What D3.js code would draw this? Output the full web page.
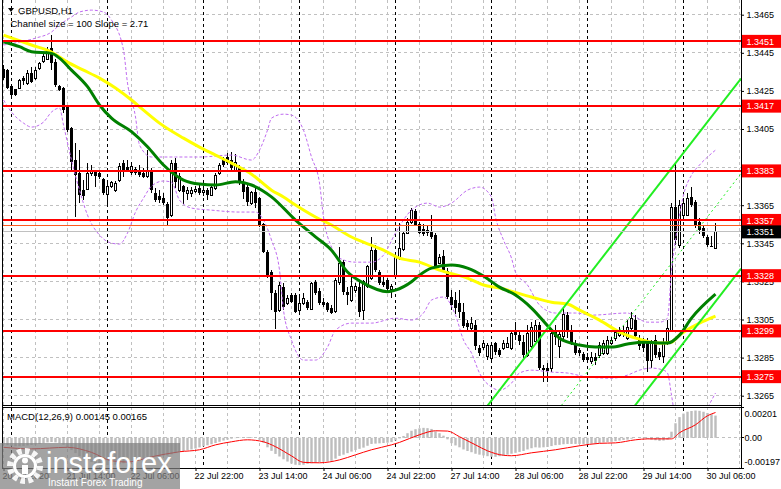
<!DOCTYPE html>
<html>
<head>
<meta charset="utf-8">
<script src="https://d3js.org/d3.v7.min.js"></script>
<style>
body{margin:0;background:white;}
text{font-family:"Liberation Sans",Arial,sans-serif;}
</style>
</head>
<body>
<div id="viz-container"></div>
<script>
let svgWidth = 781;
let svgHeight = 489;

// GBPUSD H1, bar 0 = 20 Jul 22:00, bar 178 = 30 Jul 08:00
let barOpen = [1.34363,1.34359,1.34275,1.34258,1.34263,1.34316,1.34290,1.34342,1.34316,1.34368,
 1.34403,1.34416,1.34473,1.34403,1.34275,1.34263,1.34167,1.34053,1.33887,1.33817,
 1.33729,1.33733,1.33817,1.33826,1.33820,1.33786,1.33708,1.33750,1.33729,1.33782,
 1.33870,1.33850,1.33822,1.33838,1.33834,1.33820,1.33799,1.33826,1.33712,1.33698,
 1.33686,1.33656,1.33598,1.33870,1.33726,1.33750,1.33712,1.33712,1.33721,1.33738,
 1.33715,1.33729,1.33703,1.33738,1.33817,1.33887,1.33904,1.33887,1.33834,1.33843,
 1.33765,1.33747,1.33660,1.33719,1.33686,1.33551,1.33406,1.33301,1.33187,1.33099,
 1.33222,1.33135,1.33178,1.33178,1.33099,1.33135,1.33143,1.33103,1.33248,1.33201,
 1.33143,1.33135,1.33108,1.33091,1.33243,1.33353,1.33196,1.33152,1.33204,1.33222,
 1.33099,1.33222,1.33266,1.33414,1.33301,1.33248,1.33257,1.33208,1.33274,1.33371,
 1.33420,1.33504,1.33561,1.33619,1.33551,1.33525,1.33519,1.33509,1.33493,1.33346,
 1.33383,1.33304,1.33168,1.33152,1.33136,1.33089,1.33031,1.33005,1.33021,1.32900,
 1.32905,1.32858,1.32847,1.32926,1.32889,1.32900,1.32905,1.32900,1.32994,1.32968,
 1.32931,1.32863,1.32910,1.32937,1.33021,1.32795,1.32795,1.32795,1.32984,1.32910,
 1.32963,1.33073,1.32994,1.32921,1.32889,1.32868,1.32853,1.32832,1.32853,1.32863,
 1.32874,1.32874,1.32926,1.32952,1.32968,1.32994,1.32952,1.33005,1.33047,1.32952,
 1.32931,1.32931,1.32837,1.32942,1.32879,1.32858,1.32926,1.32989,1.33640,1.33441,
 1.33598,1.33598,1.33693,1.33666,1.33561,1.33530,1.33483,1.33435,1.33425];
let barHigh = [1.34386,1.34363,1.34281,1.34260,1.34311,1.34328,1.34359,1.34377,1.34377,1.34403,
 1.34447,1.34482,1.34543,1.34416,1.34281,1.34272,1.34176,1.34062,1.33975,1.33939,
 1.33782,1.33870,1.33861,1.33831,1.33834,1.33791,1.33765,1.33777,1.33777,1.33871,
 1.33887,1.33887,1.33878,1.33852,1.33861,1.33843,1.33939,1.33843,1.33738,1.33729,
 1.33712,1.33668,1.33887,1.33896,1.33817,1.33756,1.33747,1.33747,1.33750,1.33756,
 1.33747,1.33738,1.33756,1.33817,1.33870,1.33904,1.33925,1.33931,1.33918,1.33861,
 1.33786,1.33756,1.33726,1.33740,1.33694,1.33558,1.33414,1.33309,1.33204,1.33248,
 1.33240,1.33178,1.33187,1.33187,1.33169,1.33187,1.33152,1.33248,1.33257,1.33213,
 1.33161,1.33143,1.33126,1.33266,1.33432,1.33362,1.33222,1.33274,1.33240,1.33257,
 1.33257,1.33336,1.33481,1.33441,1.33309,1.33274,1.33266,1.33236,1.33388,1.33555,
 1.33514,1.33582,1.33635,1.33630,1.33561,1.33551,1.33546,1.33598,1.33504,1.33393,
 1.33414,1.33320,1.33204,1.33194,1.33204,1.33136,1.33047,1.33063,1.33047,1.32916,
 1.32942,1.32926,1.32921,1.32931,1.32900,1.32942,1.32958,1.32994,1.33036,1.32994,
 1.32968,1.33021,1.33036,1.33047,1.33036,1.32811,1.32821,1.33005,1.33021,1.32994,
 1.33110,1.33089,1.33021,1.32942,1.32900,1.32879,1.32874,1.32879,1.32874,1.32931,
 1.32942,1.32963,1.32958,1.32994,1.33010,1.33015,1.33047,1.33089,1.33073,1.32968,
 1.32952,1.32952,1.32942,1.32968,1.32900,1.32952,1.33047,1.33661,1.33871,1.33677,
 1.33687,1.33714,1.33745,1.33677,1.33582,1.33546,1.33493,1.33488,1.33556];
let barLow = [1.34307,1.34258,1.34223,1.34223,1.34258,1.34281,1.34281,1.34290,1.34307,1.34359,
 1.34395,1.34412,1.34359,1.34272,1.34251,1.34132,1.34036,1.33826,1.33589,1.33660,
 1.33677,1.33729,1.33803,1.33747,1.33786,1.33703,1.33651,1.33740,1.33719,1.33771,
 1.33799,1.33826,1.33808,1.33808,1.33799,1.33791,1.33791,1.33712,1.33668,1.33660,
 1.33651,1.33546,1.33589,1.33738,1.33721,1.33656,1.33677,1.33694,1.33714,1.33703,
 1.33698,1.33677,1.33698,1.33729,1.33808,1.33852,1.33861,1.33826,1.33824,1.33756,
 1.33682,1.33645,1.33651,1.33635,1.33537,1.33397,1.33266,1.33099,1.32998,1.33091,
 1.33099,1.33126,1.33135,1.33084,1.33091,1.33126,1.33099,1.33099,1.33178,1.33126,
 1.33117,1.33091,1.33078,1.33082,1.33231,1.33178,1.33126,1.33143,1.33187,1.33064,
 1.33047,1.33213,1.33257,1.33301,1.33231,1.33222,1.33196,1.33161,1.33266,1.33362,
 1.33409,1.33498,1.33551,1.33540,1.33498,1.33488,1.33488,1.33472,1.33320,1.33341,
 1.33299,1.33157,1.33099,1.33078,1.33057,1.33005,1.32994,1.32994,1.32889,1.32858,
 1.32889,1.32837,1.32837,1.32863,1.32853,1.32889,1.32900,1.32889,1.32942,1.32916,
 1.32847,1.32853,1.32900,1.32931,1.32784,1.32721,1.32721,1.32774,1.32916,1.32847,
 1.32942,1.32952,1.32916,1.32863,1.32858,1.32826,1.32826,1.32816,1.32811,1.32847,
 1.32863,1.32863,1.32916,1.32937,1.32958,1.32958,1.32942,1.32994,1.32952,1.32889,
 1.32879,1.32774,1.32795,1.32847,1.32837,1.32821,1.32916,1.32984,1.33441,1.33425,
 1.33588,1.33593,1.33640,1.33530,1.33498,1.33477,1.33430,1.33428,1.33420];
let barClose = [1.34316,1.34263,1.34228,1.34228,1.34307,1.34302,1.34342,1.34298,1.34359,1.34395,
 1.34429,1.34468,1.34395,1.34281,1.34254,1.34149,1.34044,1.33878,1.33808,1.33703,
 1.33698,1.33817,1.33834,1.33803,1.33796,1.33712,1.33747,1.33768,1.33766,1.33855,
 1.33834,1.33834,1.33852,1.33820,1.33808,1.33799,1.33826,1.33729,1.33677,1.33677,
 1.33660,1.33581,1.33870,1.33773,1.33803,1.33721,1.33729,1.33729,1.33733,1.33712,
 1.33729,1.33703,1.33744,1.33808,1.33861,1.33861,1.33870,1.33845,1.33874,1.33765,
 1.33721,1.33668,1.33715,1.33661,1.33546,1.33406,1.33274,1.33187,1.33091,1.33231,
 1.33117,1.33161,1.33143,1.33091,1.33135,1.33161,1.33108,1.33240,1.33187,1.33135,
 1.33126,1.33099,1.33082,1.33257,1.33345,1.33196,1.33178,1.33222,1.33225,1.33091,
 1.33248,1.33327,1.33414,1.33309,1.33240,1.33231,1.33208,1.33225,1.33379,1.33423,
 1.33504,1.33561,1.33624,1.33546,1.33504,1.33498,1.33504,1.33483,1.33330,1.33378,
 1.33309,1.33168,1.33126,1.33110,1.33089,1.33015,1.33010,1.33031,1.32910,1.32874,
 1.32926,1.32916,1.32916,1.32879,1.32863,1.32926,1.32926,1.32979,1.32968,1.32937,
 1.32863,1.32979,1.33010,1.33021,1.32795,1.32784,1.32779,1.32979,1.32958,1.32973,
 1.33078,1.32984,1.32926,1.32874,1.32874,1.32837,1.32837,1.32853,1.32832,1.32916,
 1.32926,1.32942,1.32942,1.32984,1.32994,1.32968,1.33010,1.33057,1.32963,1.32910,
 1.32900,1.32832,1.32931,1.32863,1.32853,1.32931,1.33005,1.33640,1.33467,1.33651,
 1.33661,1.33687,1.33651,1.33540,1.33519,1.33488,1.33441,1.33430,1.33510];

// moving averages, read as [bar, price]
let yellowMA = [[0,1.34543],[7,1.34491],[12,1.34454],[16,1.34401],[20,1.34359],[24,1.34317],[28,1.34265],[32,1.34202],[35,1.34149],[39,1.34081],[45,1.34002],[49,1.33955],[53,1.33913],[57,1.33871],[62,1.33813],[67,1.33729],[70,1.33693],[73,1.33651],[78,1.33588],[82,1.33546],[87,1.33483],[90,1.33456],[95,1.33414],[99,1.33372],[104,1.33351],[109,1.33309],[116,1.33267],[120,1.33231],[124,1.33215],[132,1.33168],[137,1.33141],[141,1.33131],[144,1.33099],[149,1.33047],[154,1.32984],[159,1.32947],[164,1.32926],[167,1.32931],[169,1.32968],[174,1.33031],[178,1.33068]];
let greenMA = [[0,1.34508],[4,1.34482],[7,1.34456],[12,1.34447],[14,1.34422],[17,1.34359],[21,1.34272],[24,1.34176],[27,1.34107],[32,1.34036],[36,1.33957],[40,1.33861],[45,1.33782],[49,1.33761],[53,1.33756],[58,1.33773],[62,1.33756],[67,1.33694],[73,1.33572],[78,1.33484],[82,1.33414],[86,1.33299],[90,1.33241],[96,1.33196],[98,1.33204],[102,1.33248],[104,1.33283],[107,1.33320],[112,1.33336],[116,1.33320],[120,1.33278],[124,1.33220],[128,1.33178],[132,1.33110],[137,1.32994],[139,1.32952],[144,1.32916],[148,1.32905],[152,1.32905],[156,1.32921],[160,1.32931],[166,1.32926],[169,1.32968],[172,1.33057],[178,1.33183]];
let bandUpper = [[0,1.34491],[4,1.34506],[8,1.34527],[12,1.34559],[14,1.34596],[17,1.34638],[19,1.34664],[22,1.34674],[25,1.34664],[27,1.34622],[30,1.34464],[31,1.34291],[33,1.34113],[34,1.33966],[37,1.33903],[43,1.33903],[49,1.33903],[57,1.33913],[62,1.33887],[64,1.33939],[66,1.34044],[67,1.34107],[70,1.34128],[72,1.34123],[75,1.34044],[77,1.33903],[79,1.33766],[80,1.33588],[82,1.33430],[84,1.33372],[88,1.33351],[92,1.33351],[95,1.33388],[98,1.33504],[102,1.33624],[106,1.33661],[109,1.33640],[112,1.33661],[116,1.33729],[119,1.33745],[122,1.33693],[123,1.33588],[125,1.33467],[127,1.33372],[128,1.33299],[131,1.33231],[134,1.33126],[138,1.33084],[143,1.33084],[147,1.33073],[156,1.33084],[158,1.33063],[161,1.33036],[164,1.33036],[166,1.33057],[167,1.33309],[168,1.33467],[169,1.33598],[170,1.33703],[172,1.33808],[174,1.33861],[176,1.33903],[178,1.33939]];
let bandLower = [[0,1.34202],[2,1.34139],[5,1.34081],[7,1.34060],[10,1.34086],[12,1.34139],[14,1.34160],[15,1.34071],[17,1.33887],[19,1.33729],[21,1.33598],[24,1.33493],[27,1.33451],[29,1.33446],[31,1.33504],[33,1.33614],[35,1.33687],[37,1.33750],[40,1.33777],[42,1.33771],[44,1.33677],[47,1.33635],[52,1.33624],[59,1.33614],[63,1.33614],[65,1.33572],[67,1.33467],[69,1.33309],[70,1.33099],[72,1.32942],[75,1.32837],[78,1.32837],[81,1.32905],[83,1.32994],[87,1.33031],[92,1.33031],[98,1.33057],[102,1.33047],[105,1.33084],[107,1.33152],[110,1.33168],[113,1.33073],[115,1.32942],[117,1.32874],[119,1.32769],[122,1.32695],[124,1.32679],[127,1.32716],[129,1.32769],[132,1.32784],[137,1.32774],[141,1.32769],[146,1.32748],[152,1.32742],[156,1.32758],[159,1.32784],[162,1.32795],[165,1.32784],[166,1.32769],[167,1.32653],[168,1.32522],[170,1.32417],[172,1.32417],[174,1.32496],[176,1.32585],[178,1.32664]];

// regression channel (100 bars, slope 2.71 pips per bar)
let channelStart = 79;
let channelEnd = 178;
let channelMidAtEnd = 1.33643;
let channelHalf = 0.00499;
let channelSlope = 0.000271;

let levels = [1.3451, 1.3417, 1.3383, 1.3357, 1.3328, 1.3299, 1.3275];
let bidPrice = 1.3351;
let orangeLevel = 1.33544;
let priceTicks = [1.3265, 1.3285, 1.3305, 1.3325, 1.3345, 1.3365, 1.3385, 1.3405, 1.3425, 1.3445, 1.3465];

// MACD main in points (0.00001), one per bar
let macdMain = [-45,-48,-52,-55,-55,-53,-50,-47,-44,-40,
 -35,-30,-28,-30,-35,-45,-60,-80,-100,-120,
 -135,-148,-158,-166,-172,-176,-178,-178,-176,-172,
 -166,-160,-152,-145,-138,-132,-126,-122,-120,-118,
 -116,-116,-108,-100,-92,-86,-80,-76,-70,-63,
 -56,-49,-42,-34,-26,-18,-12,-6,-2,2,
 4,5,4,0,-12,-32,-62,-85,-105,-122,
 -140,-155,-168,-176,-178,-176,-170,-166,-162,-158,
 -156,-154,-150,-136,-118,-110,-100,-90,-80,-72,
 -64,-52,-40,-38,-36,-34,-32,-28,-18,-4,
 12,30,46,56,62,65,63,58,42,30,
 14,-10,-35,-50,-62,-76,-86,-94,-104,-110,
 -115,-120,-124,-124,-120,-116,-110,-104,-98,-92,
 -86,-76,-68,-62,-64,-62,-60,-54,-48,-46,
 -42,-40,-40,-40,-40,-40,-40,-38,-36,-33,
 -30,-28,-26,-22,-18,-14,-12,-6,0,2,
 -2,-8,-12,-16,-20,-18,-12,40,95,135,
 158,170,175,178,176,170,162,155,145];
// signal line in points, read as [bar, value]
let macdSignal = [[0,-62],[7,-72],[16,-62],[22,-95],[27,-150],[31,-158],[37,-124],[44,-91],[49,-78],[53,-46],[57,-26],[61,-13],[65,-26],[68,-58],[72,-118],[75,-160],[79,-163],[84,-144],[88,-111],[92,-78],[97,-46],[99,-30],[104,20],[108,46],[111,44],[114,7],[118,-46],[121,-85],[125,-114],[127,-117],[132,-98],[138,-78],[144,-52],[149,-36],[153,-33],[158,-13],[161,-7],[167,-7],[169,33],[173,85],[176,144],[178,165]];
let macdTicks = [0.00201, 0, -0.00197];
let macdTickText = ["0.00201", "0.00", "-0.00197"];

let timeLabels = ["20 Jul 2020","21 Jul 14:00","22 Jul 06:00","22 Jul 22:00","23 Jul 14:00","24 Jul 06:00",
 "24 Jul 22:00","27 Jul 14:00","28 Jul 06:00","28 Jul 22:00","29 Jul 14:00","30 Jul 06:00"];
let labelBars = [0,16,32,48,64,80,96,112,128,144,160,176];
let dayStartBars = [2,26,50,74,98,122,146,170];

let plotLeft = 2;
let plotRight = 741;
let mainBottom = 405;
let macdTop = 407;
let macdBottom = 468;

let viz = d3.select("#viz-container")
    .append("svg")
    .attr("width", svgWidth)
    .attr("height", svgHeight)
    .style("display", "block")
    .style("background-color", "white")
    ;

let x = d3.scaleLinear().domain([0, 178]).range([3.5, 715.5]);
let y = d3.scaleLinear().domain([1.3265, 1.3465]).range([395.7, 14.7]);
let my = d3.scaleLinear().domain([-0.00197, 0.00201]).range([macdBottom, macdTop]);

viz.append("clipPath").attr("id", "mainClip")
    .append("rect")
    .attr("x", plotLeft).attr("y", 0)
    .attr("width", plotRight - plotLeft).attr("height", mainBottom)
    ;
viz.append("clipPath").attr("id", "macdClip")
    .append("rect")
    .attr("x", plotLeft).attr("y", macdTop)
    .attr("width", plotRight - plotLeft).attr("height", macdBottom - macdTop)
    ;

//// grid
let gridBars = d3.range(0, 185, 8);
let grid = viz.append("g").attr("shape-rendering", "crispEdges");

grid.selectAll(".vgrid").data(gridBars).enter()
    .append("line")
    .attr("x1", d => x(d)).attr("x2", d => x(d))
    .attr("y1", 0).attr("y2", mainBottom)
    .attr("stroke", "#c0c0c0").attr("stroke-dasharray", "3,3")
    ;
grid.selectAll(".vgrid2").data(gridBars).enter()
    .append("line")
    .attr("x1", d => x(d)).attr("x2", d => x(d))
    .attr("y1", macdTop).attr("y2", macdBottom)
    .attr("stroke", "#c0c0c0").attr("stroke-dasharray", "3,3")
    ;
grid.selectAll(".hgrid").data(priceTicks).enter()
    .append("line")
    .attr("x1", plotLeft).attr("x2", plotRight)
    .attr("y1", d => y(d)).attr("y2", d => y(d))
    .attr("stroke", "#c0c0c0").attr("stroke-dasharray", "3,3")
    ;
grid.append("line")
    .attr("x1", plotLeft).attr("x2", plotRight)
    .attr("y1", my(0)).attr("y2", my(0))
    .attr("stroke", "#c0c0c0").attr("stroke-dasharray", "3,3")
    ;
grid.selectAll(".daysep").data(dayStartBars).enter()
    .append("line")
    .attr("x1", d => x(d)).attr("x2", d => x(d))
    .attr("y1", 0).attr("y2", macdBottom)
    .attr("stroke", "black").attr("stroke-dasharray", "3,3")
    ;

//// candles
let bars = barOpen.map(function(o, i){
    return {i: i, o: o, h: barHigh[i], l: barLow[i], c: barClose[i]};
});

let candleLayer = viz.append("g")
    .attr("clip-path", "url(#mainClip)")
    .attr("shape-rendering", "crispEdges")
    ;
let cells = candleLayer.selectAll(".candle").data(bars).enter()
    .append("g")
    .attr("class", "candle")
    ;
cells.append("line")
    .attr("x1", d => x(d.i)).attr("x2", d => x(d.i))
    .attr("y1", d => y(d.h)).attr("y2", d => y(d.l))
    .attr("stroke", "black")
    ;
cells.append("rect")
    .attr("x", d => d.c >= d.o ? x(d.i) - 1 : x(d.i) - 1.5)
    .attr("width", d => d.c >= d.o ? 2 : 3)
    .attr("y", d => y(Math.max(d.o, d.c)))
    .attr("height", d => Math.max(Math.abs(y(d.o) - y(d.c)), 1))
    .attr("fill", d => d.c >= d.o ? "white" : "black")
    .attr("stroke", d => d.c >= d.o ? "black" : "none")
    ;

//// indicators
let over = viz.append("g").attr("clip-path", "url(#mainClip)");
let pairLine = d3.line()
    .x(d => x(d[0]))
    .y(d => y(d[1]))
    .curve(d3.curveMonotoneX)
    ;

over.selectAll(".band").data([bandUpper, bandLower]).enter()
    .append("path")
    .attr("d", pairLine)
    .attr("fill", "none")
    .attr("stroke", "#bf6cf0")
    .attr("stroke-width", 1)
    .attr("stroke-dasharray", "3,2")
    ;

over.append("path")
    .attr("d", pairLine(yellowMA))
    .attr("fill", "none")
    .attr("stroke", "#ffff00")
    .attr("stroke-width", 3)
    ;
over.append("path")
    .attr("d", pairLine(greenMA))
    .attr("fill", "none")
    .attr("stroke", "#008000")
    .attr("stroke-width", 3)
    ;

function channelAt(bar, k){
    return channelMidAtEnd - channelSlope * (channelEnd - bar) + k * channelHalf;
}
let rightBar = x.invert(plotRight);
let channelLines = [-1, 0, 1];
over.selectAll(".chan").data(channelLines).enter()
    .append("line")
    .attr("x1", x(channelStart)).attr("x2", x(rightBar))
    .attr("y1", k => y(channelAt(channelStart, k)))
    .attr("y2", k => y(channelAt(rightBar, k)))
    .attr("stroke", "#22ee22")
    .attr("stroke-width", k => k == 0 ? 1 : 2)
    .attr("stroke-dasharray", k => k == 0 ? "2,3" : null)
    ;

//// horizontal levels
let levelLayer = viz.append("g").attr("shape-rendering", "crispEdges");
levelLayer.append("line")
    .attr("x1", plotLeft).attr("x2", plotRight)
    .attr("y1", y(bidPrice)).attr("y2", y(bidPrice))
    .attr("stroke", "#c0c0c0")
    ;
levelLayer.append("line")
    .attr("x1", plotLeft).attr("x2", plotRight)
    .attr("y1", y(orangeLevel)).attr("y2", y(orangeLevel))
    .attr("stroke", "#ff5a1e")
    ;
levelLayer.selectAll(".level").data(levels).enter()
    .append("line")
    .attr("x1", plotLeft).attr("x2", plotRight)
    .attr("y1", d => y(d)).attr("y2", d => y(d))
    .attr("stroke", "#ff0000")
    .attr("stroke-width", 2)
    ;

//// MACD
let macdLayer = viz.append("g").attr("clip-path", "url(#macdClip)");
macdLayer.selectAll(".hist").data(macdMain).enter()
    .append("rect")
    .attr("x", (d, i) => x(i) - 1.2)
    .attr("width", 2.4)
    .attr("y", d => Math.min(my(d / 100000), my(0)))
    .attr("height", d => Math.abs(my(d / 100000) - my(0)))
    .attr("fill", "#bdbdbd")
    ;
macdLayer.append("path")
    .attr("d", d3.line().x(d => x(d[0])).y(d => my(d[1] / 100000)).curve(d3.curveMonotoneX)(macdSignal))
    .attr("fill", "none")
    .attr("stroke", "#ff0000")
    .attr("stroke-width", 1)
    ;

//// frames
let frame = viz.append("g").attr("shape-rendering", "crispEdges").attr("stroke", "black").attr("fill", "none");
frame.append("line").attr("x1", plotLeft).attr("x2", plotLeft).attr("y1", 0).attr("y2", macdBottom);
frame.append("line").attr("x1", plotRight).attr("x2", plotRight).attr("y1", 0).attr("y2", macdBottom);
frame.append("line").attr("x1", plotLeft).attr("x2", plotRight).attr("y1", mainBottom).attr("y2", mainBottom);
frame.append("line").attr("x1", plotLeft).attr("x2", plotRight).attr("y1", macdTop).attr("y2", macdTop);
frame.append("line").attr("x1", plotLeft).attr("x2", plotRight).attr("y1", macdBottom).attr("y2", macdBottom);

//// axes
// a tick label that sits right under a level box is covered by it, as on the terminal
function coveredByBox(t){
    return levels.some(l => Math.abs(y(l) - y(t)) < 4.5);
}
let priceAxis = viz.append("g")
    .attr("transform", "translate(" + plotRight + ",0)")
    .call(d3.axisRight(y).tickValues(priceTicks).tickFormat(d3.format(".4f")).tickSize(3).tickPadding(2.5).tickSizeOuter(0))
    ;
priceAxis.select(".domain").remove();
priceAxis.selectAll("text")
    .attr("font-size", 9)
    .attr("font-family", "Liberation Sans")
    .attr("fill", "black")
    .attr("display", d => coveredByBox(d) ? "none" : null)
    ;

let timeAxis = viz.append("g")
    .attr("transform", "translate(0," + macdBottom + ")")
    .call(d3.axisBottom(x).tickValues(labelBars).tickFormat((d, k) => timeLabels[k]).tickSize(3).tickPadding(2))
    ;
timeAxis.select(".domain").remove();
timeAxis.selectAll("text")
    .attr("text-anchor", "start")
    .attr("dx", -1.5)
    .attr("font-size", 9)
    .attr("font-family", "Liberation Sans")
    .attr("fill", "black")
    ;

viz.selectAll(".macdTick").data(macdTicks).enter()
    .append("text")
    .text((d, k) => macdTickText[k])
    .attr("x", 744.5)
    .attr("y", (d, k) => my(d) + (k == 0 ? 10 : k == 2 ? -3.5 : 3.2))
    .attr("font-size", 9)
    .attr("fill", "black")
    ;
viz.selectAll(".macdMark").data(macdTicks).enter()
    .append("line")
    .attr("x1", plotRight).attr("x2", plotRight + 3)
    .attr("y1", d => my(d)).attr("y2", d => my(d))
    .attr("stroke", "black")
    .attr("shape-rendering", "crispEdges")
    ;

// level boxes on the price scale
let boxes = viz.selectAll(".levelBox").data(levels.map(v => ({v: v, bg: "#ff0000"})).concat([{v: bidPrice, bg: "black"}])).enter()
    .append("g")
    ;
boxes.append("rect")
    .attr("x", plotRight + 1)
    .attr("y", d => y(d.v) - 6.5)
    .attr("width", svgWidth - plotRight - 1)
    .attr("height", 13)
    .attr("fill", d => d.bg)
    ;
boxes.append("text")
    .text(d => d3.format(".4f")(d.v))
    .attr("x", 746.5)
    .attr("y", d => y(d.v) + 3.3)
    .attr("font-size", 9)
    .attr("fill", "white")
    ;

//// titles
viz.append("path")
    .attr("d", "M8,8 L14,8 L11,12 Z")
    .attr("fill", "black")
    ;
viz.append("text")
    .text("GBPUSD,H1")
    .attr("x", 18).attr("y", 13.5)
    .attr("font-size", 9.5)
    .attr("fill", "black")
    ;
viz.append("text")
    .text("Channel size = 100 Slope = 2.71")
    .attr("x", 10.5).attr("y", 27)
    .attr("font-size", 9.5)
    .attr("fill", "black")
    ;
viz.append("text")
    .text("MACD(12,26,9) 0.00145 0.00165")
    .attr("x", 7).attr("y", 419.5)
    .attr("font-size", 9.5)
    .attr("fill", "black")
    ;

//// watermark
let wm = viz.append("g");
wm.append("rect")
    .attr("x", 0).attr("y", 443)
    .attr("width", 180).attr("height", 46)
    .attr("fill", "#808080")
    .attr("opacity", 0.72)
    ;
wm.append("circle")
    .attr("cx", 25).attr("cy", 466).attr("r", 15)
    .attr("fill", "none").attr("stroke", "white")
    .attr("stroke-width", 6).attr("stroke-dasharray", "4.5,3.3")
    .attr("opacity", 0.9)
    ;
wm.append("circle")
    .attr("cx", 25).attr("cy", 466).attr("r", 10.5)
    .attr("fill", "none").attr("stroke", "white").attr("stroke-width", 3)
    ;
wm.append("circle").attr("cx", 25).attr("cy", 460.5).attr("r", 3).attr("fill", "white");
wm.append("rect").attr("x", 22).attr("y", 465).attr("width", 6).attr("height", 9).attr("fill", "white");
wm.append("text")
    .text("instaforex")
    .attr("x", 46).attr("y", 473)
    .attr("font-family", "Open Sans")
    .attr("font-size", 29)
    .attr("fill", "white")
    ;
wm.append("text")
    .text("Instant Forex Trading")
    .attr("x", 48).attr("y", 486)
    .attr("font-family", "Open Sans")
    .attr("font-size", 10)
    .attr("fill", "white")
    ;
</script>
</body>
</html>
